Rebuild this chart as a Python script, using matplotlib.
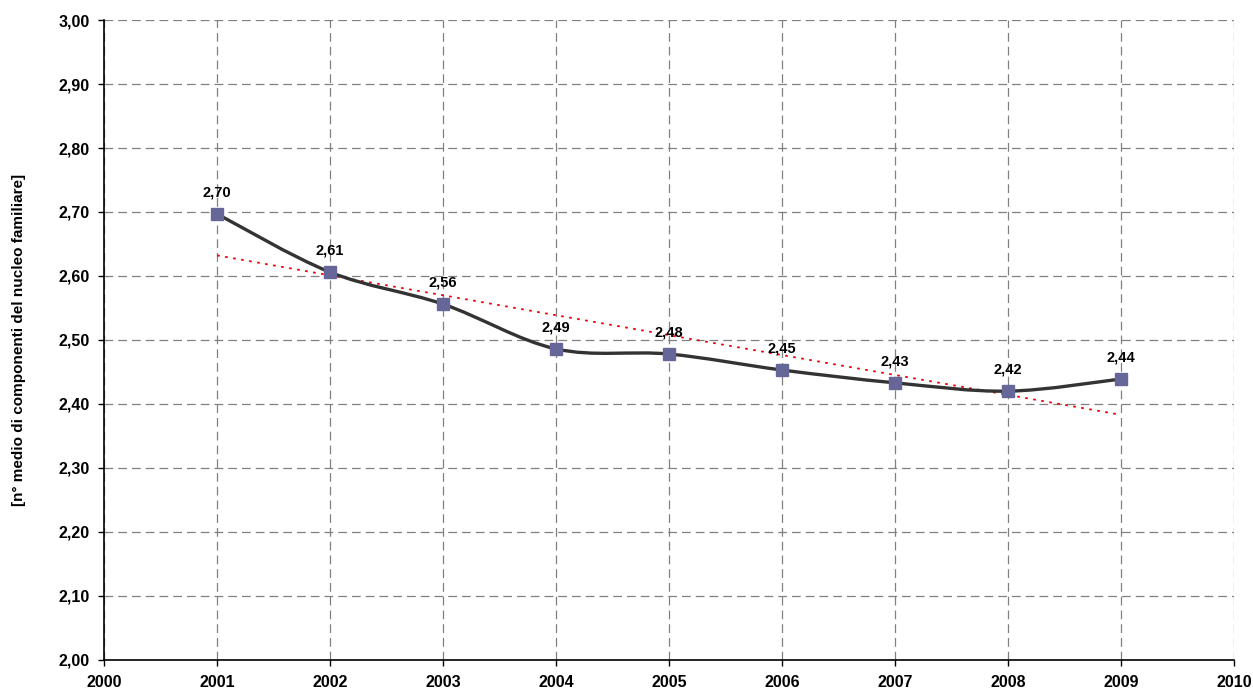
# numero medio di componenti del nucleo familiare 2001-2009

import numpy as np
import matplotlib.pyplot as plt
from matplotlib.path import Path
from matplotlib.patches import PathPatch

plt.rcParams['font.family'] = ['Liberation Sans', 'DejaVu Sans']
plt.rcParams['font.weight'] = 'bold'

# data
anni = [2001, 2002, 2003, 2004, 2005, 2006, 2007, 2008, 2009]
componenti = [2.697, 2.606, 2.556, 2.486, 2.478, 2.453, 2.433, 2.420, 2.439]
etichette = ['2,70', '2,61', '2,56', '2,49', '2,48', '2,45', '2,43', '2,42', '2,44']
xticks = list(range(2000, 2011))
yticks = [2.0, 2.1, 2.2, 2.3, 2.4, 2.5, 2.6, 2.7, 2.8, 2.9, 3.0]

fig = plt.figure(figsize=(12.53, 6.91), dpi=100)
ax = fig.add_axes([0.083, 0.045, 0.902, 0.926])

# smoothed line (excel style bezier through the points)
x = np.array(anni, dtype=float)
y = np.array(componenti)
n = len(x)
verts = [(x[0], y[0])]
codes = [Path.MOVETO]
for i in range(n - 1):
    p0 = np.array([x[max(i - 1, 0)], y[max(i - 1, 0)]])
    p1 = np.array([x[i], y[i]])
    p2 = np.array([x[i + 1], y[i + 1]])
    p3 = np.array([x[min(i + 2, n - 1)], y[min(i + 2, n - 1)]])
    c1 = p1 + (p2 - p0) / 6
    c2 = p2 - (p3 - p1) / 6
    verts += [tuple(c1), tuple(c2), tuple(p2)]
    codes += [Path.CURVE4] * 3
ax.add_patch(PathPatch(Path(verts, codes), facecolor='none', edgecolor='#333333',
                       lw=2.4, zorder=3, capstyle='round', joinstyle='round'))

ax.plot(anni, componenti, ls='none', marker='s', ms=8.5, color='#666699', zorder=4)

# linear trend
coef = np.polyfit(x, y, 1)
ax.plot([x[0], x[-1]], np.polyval(coef, [x[0], x[-1]]), color='red', ls=(0, (1.5, 3)),
        lw=1.3, zorder=2)

for xi, yi, t in zip(anni, componenti, etichette):
    ax.annotate(t, (xi, yi), xytext=(0, 10.5), textcoords='offset points', ha='center',
                va='bottom', fontsize=10.5, fontweight='bold')

ax.set_xlim(2000, 2010)
ax.set_ylim(2.0, 3.0)
ax.set_xticks(xticks)
ax.set_yticks(yticks)
ax.set_yticklabels([('%.2f' % v).replace('.', ',') for v in yticks])
ax.tick_params(labelsize=11.5, length=4, width=1, direction='out')
ax.tick_params(axis='x', pad=7)
ax.tick_params(axis='y', pad=6)
for lab in ax.get_xticklabels() + ax.get_yticklabels():
    lab.set_fontweight('bold')

ax.grid(True, color='#808080', ls=(0, (7, 4)), lw=0.9)
ax.set_axisbelow(True)
ax.spines['top'].set_visible(False)
ax.spines['right'].set_visible(False)
ax.spines['left'].set_linewidth(1.2)
ax.spines['bottom'].set_linewidth(1.2)

ax.set_ylabel('[n° medio di componenti del nucleo familiare]', fontsize=11,
              fontweight='bold', labelpad=24)

plt.savefig('out.png', dpi=100)
